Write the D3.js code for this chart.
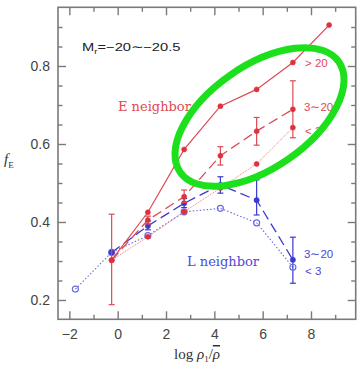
<!DOCTYPE html>
<html>
<head>
<meta charset="utf-8">
<script src="https://cdn.jsdelivr.net/npm/d3@7"></script>
<style>
  body { margin: 0; background: #fff; }
  svg { display: block; }
</style>
</head>
<body>
<svg id="chart" width="359" height="368"></svg>
<script>
// Tick values
const xMajor = [-2, 0, 2, 4, 6, 8];
const xMinor = [-1, 1, 3, 5, 7, 9];
const yMajor = [0.2, 0.4, 0.6, 0.8];
const yMinor = [0.25, 0.3, 0.35, 0.45, 0.5, 0.55, 0.65, 0.7, 0.75, 0.85, 0.9];

// E neighbor fractions, by neighbour count (x = log rho1/rhobar)
const eHigh = [[-0.25, 0.302], [1.25, 0.425], [2.75, 0.586], [4.25, 0.697], [5.75, 0.740], [7.25, 0.809], [8.75, 0.905]];
const eMid  = [[-0.25, 0.302], [1.25, 0.405], [2.75, 0.465], [4.25, 0.570], [5.75, 0.633], [7.25, 0.689]];
const eLow  = [[-0.25, 0.302], [1.25, 0.362], [2.75, 0.426], [4.25, 0.487], [5.75, 0.549], [7.25, 0.642]];
// E error bars [x, low, high]
const eMidErr = [[-0.25, 0.188, 0.420], [1.25, 0.395, 0.415], [2.75, 0.450, 0.482], [4.25, 0.546, 0.593], [5.75, 0.597, 0.668], [7.25, 0.616, 0.762]];

// L neighbor fractions
const lMid = [[-0.25, 0.322], [1.25, 0.390], [2.75, 0.448], [4.25, 0.495], [5.75, 0.456], [7.25, 0.303]];
const lLow = [[-1.75, 0.228], [-0.25, 0.322], [1.25, 0.365], [2.75, 0.426], [4.25, 0.435], [5.75, 0.398], [7.25, 0.284]];
const lMidErr = [[1.25, 0.380, 0.402], [2.75, 0.437, 0.460], [4.25, 0.474, 0.516], [5.75, 0.418, 0.508], [7.25, 0.243, 0.361]];

const svg = d3.select("#chart");
const L = 58, R = 355.7, T = 7.3, B = 319.3;
const x = d3.scaleLinear().domain([-2.47, 9.85]).range([L, R]);
const y = d3.scaleLinear().domain([0.1505, 0.9505]).range([B, T]);

const axisColor = "#7a7a7a";
const red = "#e0303c", redLine = "#dd4a55", redLight = "#e87a85";
const blue = "#3a3ad0", blueLight = "#6a6ae0";

// Frame
svg.append("rect").attr("x", L).attr("y", T).attr("width", R - L).attr("height", B - T)
  .attr("fill", "none").attr("stroke", axisColor).attr("stroke-width", 1.6);

function styleAxis(g) {
  g.select(".domain").remove();
  g.selectAll(".tick line").attr("stroke", axisColor).attr("stroke-width", 1.4);
  g.selectAll(".tick text").attr("fill", "#444").attr("font-family", "Liberation Sans, Arial, sans-serif").attr("font-size", 14);
}

// Major ticks with labels (bottom, left), ticks only (top, right)
svg.append("g").attr("transform", `translate(0,${B})`)
  .call(d3.axisBottom(x).tickValues(xMajor).tickSize(-8).tickPadding(10).tickFormat(d => d < 0 ? "\u2212" + Math.abs(d) : d))
  .call(styleAxis);
svg.append("g").attr("transform", `translate(0,${B})`)
  .call(d3.axisBottom(x).tickValues(xMinor).tickSize(-4.5).tickFormat(""))
  .call(styleAxis);
svg.append("g").attr("transform", `translate(0,${T})`)
  .call(d3.axisTop(x).tickValues(xMajor).tickSize(-8).tickFormat(""))
  .call(styleAxis);
svg.append("g").attr("transform", `translate(0,${T})`)
  .call(d3.axisTop(x).tickValues(xMinor).tickSize(-4.5).tickFormat(""))
  .call(styleAxis);
svg.append("g").attr("transform", `translate(${L},0)`)
  .call(d3.axisLeft(y).tickValues(yMajor).tickSize(-8).tickPadding(8).tickFormat(d3.format(".1f")))
  .call(styleAxis);
svg.append("g").attr("transform", `translate(${L},0)`)
  .call(d3.axisLeft(y).tickValues(yMinor).tickSize(-4.5).tickFormat(""))
  .call(styleAxis);
svg.append("g").attr("transform", `translate(${R},0)`)
  .call(d3.axisRight(y).tickValues(yMajor).tickSize(-8).tickFormat(""))
  .call(styleAxis);
svg.append("g").attr("transform", `translate(${R},0)`)
  .call(d3.axisRight(y).tickValues(yMinor).tickSize(-4.5).tickFormat(""))
  .call(styleAxis);

const line = d3.line().x(d => x(d[0])).y(d => y(d[1]));

function drawSeries(data, color, width, dash) {
  svg.append("path").datum(data).attr("d", line)
    .attr("fill", "none").attr("stroke", color).attr("stroke-width", width)
    .attr("stroke-dasharray", dash);
}
function drawErr(data, color) {
  const g = svg.append("g").attr("stroke", color).attr("stroke-width", 1.2);
  g.selectAll("line.v").data(data).join("line")
    .attr("x1", d => x(d[0])).attr("x2", d => x(d[0]))
    .attr("y1", d => y(d[1])).attr("y2", d => y(d[2]));
  ["1", "2"].forEach(k => {
    g.selectAll("line.c" + k).data(data).join("line").attr("class", "c" + k)
      .attr("x1", d => x(d[0]) - 3).attr("x2", d => x(d[0]) + 3)
      .attr("y1", d => y(d[+k])).attr("y2", d => y(d[+k]));
  });
}
function drawDots(data, color, r, open) {
  svg.append("g").selectAll("circle").data(data).join("circle")
    .attr("cx", d => x(d[0])).attr("cy", d => y(d[1])).attr("r", r)
    .attr("fill", open ? "#fff" : color).attr("fill-opacity", open ? 0 : 1)
    .attr("stroke", color).attr("stroke-width", open ? 1.2 : 0.6);
}

// L neighbor
drawSeries(lLow, blueLight, 1.1, "1.5,2");
drawSeries(lMid, blue, 1.3, "10,5");
drawErr(lMidErr, blue);
drawDots(lLow, blueLight, 3, true);
drawDots(lMid, blue, 2.6, false);

// E neighbor
drawSeries(eLow, redLight, 1.0, "1,1");
drawSeries(eMid, redLine, 1.3, "10,5");
drawSeries(eHigh, redLine, 1.2, null);
drawErr(eMidErr, redLine);
drawDots(eLow, red, 2.5, false);
drawDots(eMid, red, 2.5, false);
drawDots(eHigh, red, 2.5, false);

// Text
const sans = "Liberation Sans, Arial, sans-serif";
const serif = "DejaVu Serif, Liberation Serif, serif";

const mr = svg.append("text").attr("transform", "translate(82,50.5) scale(1.28,1)")
  .attr("font-family", sans).attr("font-size", 11.5).attr("fill", "#222");
mr.append("tspan").text("M");
mr.append("tspan").attr("font-size", 7.5).attr("dy", 3).text("r");
mr.append("tspan").attr("dy", -3).text("=\u221220\u223c\u221220.5");

svg.append("text").attr("x", 118).attr("y", 111).attr("font-family", serif).attr("font-size", 13)
  .attr("fill", "#e04a55").text("E neighbor");
svg.append("text").attr("x", 187).attr("y", 266).attr("font-family", serif).attr("font-size", 13)
  .attr("fill", "#4a4ad8").text("L neighbor");

const smallLabels = [
  { t: "> 20", x: 305, y: 67, c: "#e04a55" },
  { t: "3\u223c20", x: 304, y: 111, c: "#e04a55" },
  { t: "< 3", x: 305, y: 135, c: "#e04a55" },
  { t: "3\u223c20", x: 304, y: 258, c: "#4a4ad8" },
  { t: "< 3", x: 305, y: 275, c: "#4a4ad8" }
];
svg.append("g").selectAll("text").data(smallLabels).join("text")
  .attr("x", d => d.x).attr("y", d => d.y).attr("fill", d => d.c)
  .attr("font-family", sans).attr("font-size", 11.5).text(d => d.t);

// Axis titles
const fy = svg.append("text").attr("x", 4).attr("y", 164).attr("font-family", "Liberation Serif, serif").attr("font-size", 15).attr("fill", "#333");
fy.append("tspan").attr("font-style", "italic").text("f");
fy.append("tspan").attr("font-size", 9).attr("dy", 4).text("E");

const xt = svg.append("text").attr("x", 174).attr("y", 359).attr("font-family", "Liberation Serif, serif").attr("font-size", 15).attr("fill", "#333");
xt.append("tspan").text("log ");
xt.append("tspan").attr("font-style", "italic").text("\u03c1");
xt.append("tspan").attr("font-size", 9).attr("dy", 3).text("1");
xt.append("tspan").attr("dy", -3).text("/");
xt.append("tspan").attr("font-style", "italic").attr("text-decoration", "overline").text("\u03c1");

// Highlight ellipse
svg.append("ellipse").attr("cx", 0).attr("cy", 0).attr("rx", 96.6).attr("ry", 51.1)
  .attr("transform", "translate(259.5,117) rotate(-34.8)")
  .attr("fill", "none").attr("stroke", "#1de01d").attr("stroke-width", 7);
</script>
</body>
</html>
